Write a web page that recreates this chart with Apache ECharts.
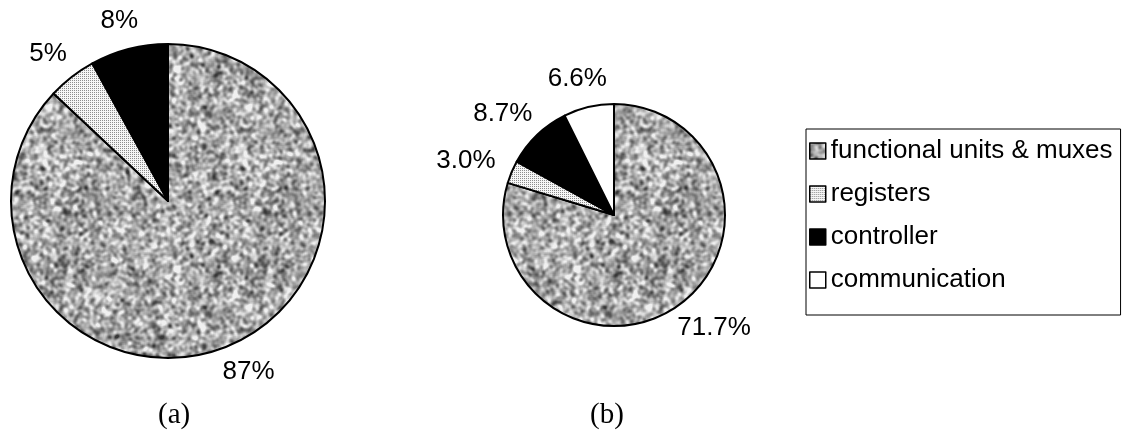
<!DOCTYPE html>
<html>
<head>
<meta charset="utf-8">
<title>Area breakdown</title>
<script src="https://cdn.jsdelivr.net/npm/echarts@6/dist/echarts.min.js"></script>
<style>
  html, body { margin: 0; padding: 0; background: #fff; }
  #chart { width: 1129px; height: 430px; }
</style>
</head>
<body>
<div id="chart"></div>
<script>
// Component names (legend order)
const categories = ['functional units & muxes', 'registers', 'controller', 'communication'];
// (a) has no communication part
const valuesA = [87, 5, 8];
const valuesB = [71.7, 3.0, 8.7, 6.6];
const labelsA = ['87%', '5%', '8%'];
const labelsB = ['71.7%', '3.0%', '8.7%', '6.6%'];
const panelTitles = ['(a)', '(b)'];

// Deterministic generator for the fill textures
function makeRand(seed) {
  let s = seed >>> 0;
  return function () {
    s = (Math.imul(s, 1664525) + 1013904223) >>> 0;
    return s / 4294967296;
  };
}

// Mottled grey texture: blurred grain, wrapped so the tile repeats seamlessly
function noiseTile(size, seed) {
  const rand = makeRand(seed);
  let buf = new Float32Array(size * size);
  for (let i = 0; i < buf.length; i++) buf[i] = rand();
  function boxBlur(src, r) {
    const tmp = new Float32Array(src.length);
    const out = new Float32Array(src.length);
    const span = 2 * r + 1;
    for (let y = 0; y < size; y++) {
      for (let x = 0; x < size; x++) {
        let s = 0;
        for (let k = -r; k <= r; k++) s += src[y * size + ((x + k + size) % size)];
        tmp[y * size + x] = s / span;
      }
    }
    for (let y = 0; y < size; y++) {
      for (let x = 0; x < size; x++) {
        let s = 0;
        for (let k = -r; k <= r; k++) s += tmp[((y + k + size) % size) * size + x];
        out[y * size + x] = s / span;
      }
    }
    return out;
  }
  buf = boxBlur(buf, 1);
  buf = boxBlur(buf, 1);
  buf = boxBlur(buf, 1);
  let mean = 0;
  for (let i = 0; i < buf.length; i++) mean += buf[i];
  mean /= buf.length;
  let varSum = 0;
  for (let i = 0; i < buf.length; i++) varSum += (buf[i] - mean) * (buf[i] - mean);
  const sd = Math.sqrt(varSum / buf.length);

  const c = document.createElement('canvas');
  c.width = c.height = size;
  const ctx = c.getContext('2d');
  const img = ctx.createImageData(size, size);
  for (let i = 0; i < buf.length; i++) {
    let g = 168 + (buf[i] - mean) / sd * 36;
    g = Math.max(55, Math.min(240, g));
    img.data[i * 4] = img.data[i * 4 + 1] = img.data[i * 4 + 2] = g;
    img.data[i * 4 + 3] = 255;
  }
  ctx.putImageData(img, 0, 0);
  return c;
}

// Fine dotted texture
function dotTile() {
  const c = document.createElement('canvas');
  c.width = c.height = 2;
  const ctx = c.getContext('2d');
  ctx.fillStyle = '#f6f6f6';
  ctx.fillRect(0, 0, 2, 2);
  ctx.fillStyle = '#8c8c8c';
  ctx.fillRect(0, 0, 1, 1);
  return c;
}

const fills = [
  { image: noiseTile(200, 20240611), repeat: 'repeat' },
  { image: dotTile(), repeat: 'repeat' },
  '#000000',
  '#ffffff'
];

const pies = [
  { center: [168, 201], radius: 157, values: valuesA, labels: labelsA },
  { center: [614, 215], radius: 111, values: valuesB, labels: labelsB }
];

const font = '"Liberation Sans", Arial, sans-serif';

// Put each percentage just outside its slice, along the slice's middle angle
function placeLabel(params) {
  const p = pies[params.seriesIndex];
  const vals = p.values;
  const sum = vals.reduce(function (a, b) { return a + b; }, 0);
  let before = 0;
  for (let i = 0; i < params.dataIndex; i++) before += vals[i];
  const mid = (before + vals[params.dataIndex] / 2) / sum * Math.PI * 2;
  const dx = Math.sin(mid), dy = -Math.cos(mid);
  const gap = 20;
  const w = params.labelRect.width;
  const px = p.center[0] + dx * (p.radius + gap);
  const py = p.center[1] + dy * (p.radius + gap);
  return {
    x: px + dx * w / 2,
    y: py + dy * 9,
    align: 'center',
    verticalAlign: 'middle'
  };
}

function buildSeries(p) {
  return {
    type: 'pie',
    center: p.center,
    radius: p.radius,
    startAngle: 90,
    clockwise: true,
    avoidLabelOverlap: false,
    silent: true,
    data: p.values.map(function (v, i) {
      return {
        name: categories[i],
        value: v,
        itemStyle: { color: fills[i] },
        label: { formatter: p.labels[i] }
      };
    }),
    itemStyle: { borderColor: '#000', borderWidth: 2 },
    label: {
      show: true,
      position: 'outside',
      color: '#000',
      fontFamily: font,
      fontSize: 26
    },
    labelLine: { show: false },
    labelLayout: placeLabel,
    emphasis: { disabled: true }
  };
}

const serif = '"Liberation Serif", "Times New Roman", serif';

const chart = echarts.init(document.getElementById('chart'), null, { renderer: 'canvas' });
chart.setOption({
  animation: false,
  backgroundColor: '#fff',
  title: [
    { text: panelTitles[0], left: 158, top: 401, padding: 0,
      textStyle: { fontFamily: serif, fontSize: 29, fontWeight: 'normal', color: '#000' } },
    { text: panelTitles[1], left: 590, top: 401, padding: 0,
      textStyle: { fontFamily: serif, fontSize: 29, fontWeight: 'normal', color: '#000' } }
  ],
  legend: {
    data: categories,
    orient: 'vertical',
    left: 806,
    top: 129,
    padding: [9, 8, 22, 3],
    itemGap: 17,
    itemWidth: 16,
    itemHeight: 16,
    icon: 'rect',
    borderColor: '#000',
    borderWidth: 1,
    selectedMode: false,
    itemStyle: { borderColor: '#000', borderWidth: 1.5 },
    textStyle: { fontFamily: font, fontSize: 26, color: '#000', lineHeight: 26 }
  },
  series: pies.map(buildSeries)
});
</script>
</body>
</html>
